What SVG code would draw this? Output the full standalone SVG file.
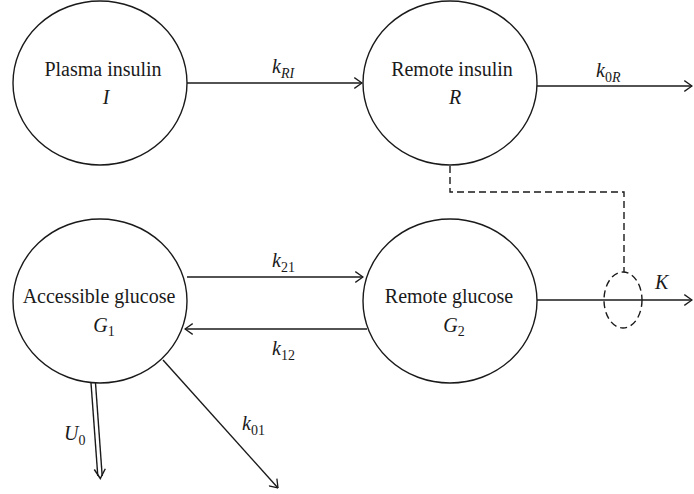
<svg xmlns="http://www.w3.org/2000/svg" width="694" height="494" viewBox="0 0 694 494">
<style>
.node{fill:#fff;stroke:#1a1a1a;stroke-width:1.4}
.t{font-family:"Liberation Serif","DejaVu Serif",serif;font-size:20px;fill:#1a1a1a}
.it{font-style:italic}
.sub{font-size:14px}
.ln{stroke:#1a1a1a;stroke-width:1.4;fill:none}
.dash{stroke:#1a1a1a;stroke-width:1.4;fill:none;stroke-dasharray:7 4}
</style>
<defs>
<marker id="ah" viewBox="0 0 9 12" refX="8.3" refY="6" markerWidth="9" markerHeight="12" markerUnits="userSpaceOnUse" orient="auto">
<path d="M0.6,0.6 L8.3,6 L0.6,11.4" fill="none" stroke="#1a1a1a" stroke-width="1.3"/>
</marker>
</defs>
<g id="connectors">
<line class="ln" x1="187" y1="83" x2="362" y2="83" marker-end="url(#ah)"/>
<text class="t" x="272" y="73"><tspan class="it">k</tspan><tspan class="sub it" dy="5">RI</tspan></text>
<line class="ln" x1="537" y1="86" x2="692" y2="86" marker-end="url(#ah)"/>
<text class="t" x="596" y="77"><tspan class="it">k</tspan><tspan class="sub" dy="5">0</tspan><tspan class="sub it">R</tspan></text>
<line class="ln" x1="187" y1="277" x2="363" y2="277" marker-end="url(#ah)"/>
<text class="t" x="272" y="267"><tspan class="it">k</tspan><tspan class="sub" dy="5">21</tspan></text>
<line class="ln" x1="367" y1="329" x2="185" y2="329" marker-end="url(#ah)"/>
<text class="t" x="272" y="355"><tspan class="it">k</tspan><tspan class="sub" dy="5">12</tspan></text>
<line class="ln" x1="537" y1="300" x2="692" y2="300" marker-end="url(#ah)"/>
<text class="t it" x="655" y="289">K</text>
<polyline class="dash" points="450,166 450,192 624,192 624,272"/>
<ellipse class="dash" cx="623" cy="300" rx="19" ry="28"/>
<line class="ln" x1="91" y1="383" x2="97.8" y2="476"/>
<line class="ln" x1="95.5" y1="383" x2="102.2" y2="476"/>
<path class="ln" d="M94.3,469.5 L100.3,478.5 L105.3,468.8"/>
<text class="t" x="64" y="440"><tspan class="it">U</tspan><tspan class="sub" dy="5">0</tspan></text>
<line class="ln" x1="163" y1="360" x2="278" y2="488" marker-end="url(#ah)"/>
<text class="t" x="242" y="430"><tspan class="it">k</tspan><tspan class="sub" dy="5">01</tspan></text>
</g>
<g id="plasma-insulin">
<ellipse class="node" cx="100" cy="83" rx="87" ry="82"/>
<text class="t" x="103" y="76" text-anchor="middle">Plasma insulin</text>
<text class="t it" x="106" y="104" text-anchor="middle">I</text>
</g>
<g id="remote-insulin">
<ellipse class="node" cx="450" cy="83" rx="87" ry="82"/>
<text class="t" x="452" y="76" text-anchor="middle">Remote insulin</text>
<text class="t it" x="455" y="104" text-anchor="middle">R</text>
</g>
<g id="accessible-glucose">
<ellipse class="node" cx="100" cy="301" rx="87" ry="82"/>
<text class="t" x="99" y="303" text-anchor="middle">Accessible glucose</text>
<text class="t" x="104" y="332" text-anchor="middle"><tspan class="it">G</tspan><tspan class="sub" dy="4">1</tspan></text>
</g>
<g id="remote-glucose">
<ellipse class="node" cx="450" cy="301" rx="87" ry="82"/>
<text class="t" x="449" y="303" text-anchor="middle">Remote glucose</text>
<text class="t" x="454" y="332" text-anchor="middle"><tspan class="it">G</tspan><tspan class="sub" dy="4">2</tspan></text>
</g>
</svg>
